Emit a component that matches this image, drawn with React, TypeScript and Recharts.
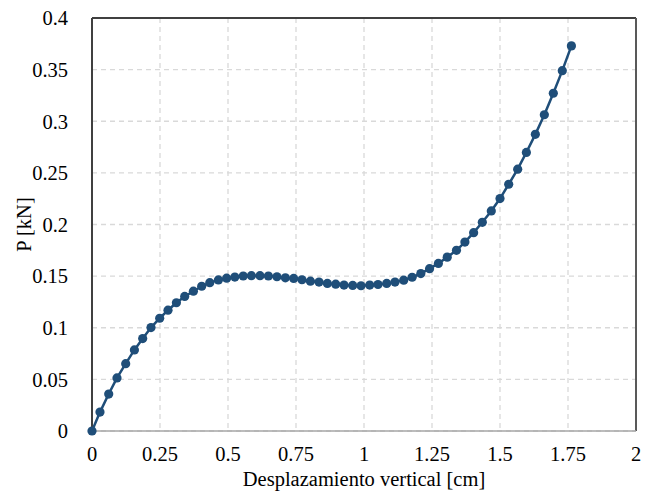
import { LineChart, Line, XAxis, YAxis, CartesianGrid, ReferenceLine } from 'recharts';

// desplazamiento vertical [cm]
const desplazamiento = [
  0, 0.0294, 0.0614, 0.0919, 0.1239, 0.1559, 0.1864, 0.2169, 0.2489, 0.2794,
  0.3103, 0.3408, 0.3728, 0.4033, 0.433, 0.4647, 0.495, 0.5252, 0.556, 0.586,
  0.6176, 0.6485, 0.68, 0.711, 0.7415, 0.772, 0.803, 0.8346, 0.8654, 0.896,
  0.9265, 0.9585, 0.989, 1.021, 1.0515, 1.0835, 1.114, 1.146, 1.177, 1.209,
  1.241, 1.2735, 1.306, 1.34, 1.371, 1.403, 1.435, 1.468, 1.5, 1.532,
  1.565, 1.597, 1.63, 1.663, 1.696, 1.729, 1.7625,
];

// carga P [kN]
const carga = [
  0, 0.0183, 0.0358, 0.0514, 0.0652, 0.0785, 0.0895, 0.1002, 0.1092, 0.117,
  0.1242, 0.1303, 0.1354, 0.1402, 0.1437, 0.1463, 0.148, 0.1491, 0.1501, 0.1504,
  0.1504, 0.1501, 0.1494, 0.1484, 0.1478, 0.1465, 0.1451, 0.1442, 0.1429, 0.1422,
  0.1413, 0.141, 0.1407, 0.1413, 0.1419, 0.1429, 0.1442, 0.1461, 0.1489, 0.1525,
  0.1572, 0.1623, 0.1684, 0.175, 0.183, 0.1921, 0.2021, 0.2131, 0.2251, 0.239,
  0.2536, 0.2698, 0.2873, 0.3063, 0.3271, 0.349, 0.373,
];

const xTicks = [0, 0.25, 0.5, 0.75, 1, 1.25, 1.5, 1.75, 2];
const yTicks = [0, 0.05, 0.1, 0.15, 0.2, 0.25, 0.3, 0.35, 0.4];

const data = desplazamiento.map((x, i) => ({ x, p: carga[i] }));

const font = 'Liberation Serif';
const fs = 20.5;
const navy = '#1f4e79';

const XTick = ({ x, y, payload }: any) => (
  <text x={x} y={y} dy="0.71em" textAnchor="middle" fill="#000" fontFamily={font} fontSize={fs}>
    {payload.value}
  </text>
);

const YTick = ({ x, y, payload }: any) => (
  <text x={x} y={y} dy="0.355em" textAnchor="end" fill="#000" fontFamily={font} fontSize={fs}>
    {payload.value}
  </text>
);

export default function App() {
  return (
    <div style={{ position: 'absolute', left: 0, top: 0, width: 653, height: 496, background: '#fff' }}>
      <LineChart
        width={653}
        height={496}
        data={data}
        margin={{ top: 18, right: 17, bottom: 0, left: 0 }}
      >
        <CartesianGrid stroke="#d9d9d9" strokeDasharray="5 4" strokeWidth={1.3} />
        <XAxis
          type="number"
          dataKey="x"
          domain={[0, 2]}
          ticks={xTicks}
          tickLine={false}
          axisLine={{ stroke: '#a6a6a6', strokeWidth: 1.5 }}
          tick={<XTick />}
          tickMargin={9}
          height={65}
          label={{
            value: 'Desplazamiento vertical [cm]',
            position: 'insideBottom',
            offset: 10,
            fill: '#000',
            fontFamily: font,
            fontSize: fs,
          }}
        />
        <YAxis
          type="number"
          domain={[0, 0.4]}
          ticks={yTicks}
          tickLine={false}
          axisLine={{ stroke: '#404040', strokeWidth: 2 }}
          tick={<YTick />}
          tickMargin={18}
          width={92}
          label={{
            value: 'P [kN]',
            angle: -90,
            position: 'insideLeft',
            offset: 24,
            fill: '#000',
            fontFamily: font,
            fontSize: fs,
            style: { textAnchor: 'middle' },
          }}
        />
        <ReferenceLine y={0.4} stroke="#404040" strokeWidth={2} />
        <ReferenceLine x={2} stroke="#595959" strokeWidth={2} />
        <Line
          type="linear"
          dataKey="p"
          stroke={navy}
          strokeWidth={2.5}
          dot={{ r: 4.6, fill: navy, stroke: navy, strokeWidth: 0 }}
          isAnimationActive={false}
        />
      </LineChart>
    </div>
  );
}
